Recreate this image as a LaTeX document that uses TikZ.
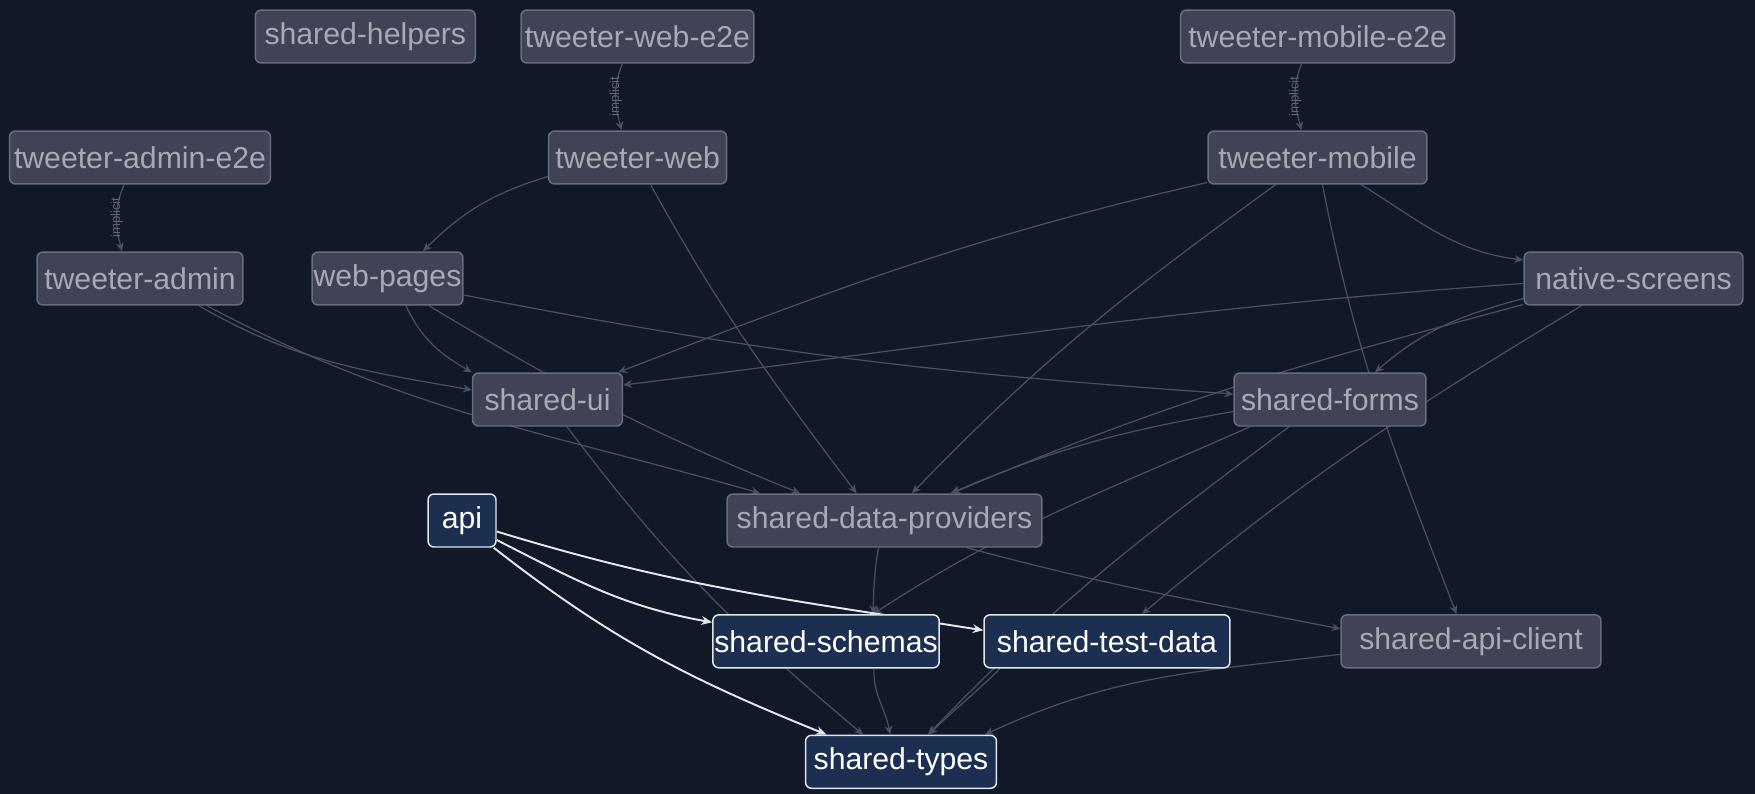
\documentclass[tikz,border=0pt]{standalone}
\usepackage{fontspec}
\setmainfont{Liberation Sans}
\usepackage{tikz}
\usetikzlibrary{arrows.meta, calc}
\usepackage{xcolor}

\definecolor{bgcol}{HTML}{111827}
\definecolor{pkgfill}{HTML}{3F4355}
\definecolor{pkgline}{HTML}{696C7E}
\definecolor{pkgtext}{HTML}{A7AAB6}
\definecolor{hotfill}{HTML}{1C2F51}
\definecolor{hotline}{HTML}{E2E4EA}
\definecolor{depcol}{HTML}{4A4F61}
\definecolor{apicol}{HTML}{E5E7EB}
\definecolor{implcol}{HTML}{5F6376}

\pgfdeclarelayer{bg}
\pgfdeclarelayer{edges}
\pgfsetlayers{bg,edges,main}

\tikzset{
  pkg/.style={draw=pkgline, fill=pkgfill, text=pkgtext, rounded corners=0.12cm,
    line width=0.85pt, minimum height=1.06cm, inner xsep=0.03cm,
    font=\fontsize{17.2}{20}\selectfont},
  hotpkg/.style={pkg, draw=hotline, fill=hotfill, text=white},
  dep/.style={->, >={Stealth[length=5pt,width=4.5pt]}, draw=depcol, line width=0.7pt},
  apidep/.style={->, >={Stealth[length=6pt,width=5pt]}, draw=apicol, line width=1.1pt},
  implicit/.style={font=\fontsize{7.5}{8}\selectfont, text=implcol, rotate=90, inner sep=0pt}
}

\begin{document}
\begin{tikzpicture}[x=0.02cm, y=-0.02cm]
  \begin{pgfonlayer}{bg}
    \fill[bgcol] (0,0) rectangle (1755,794);
  \end{pgfonlayer}
  \useasboundingbox (0,0) rectangle (1755,794);

  % apps and e2e
  \node[pkg, minimum width=4.4cm] (sharedHelpers) at (365.3,36.5) {shared-helpers};
  \node[pkg, minimum width=4.66cm] (tweeterWebE2e) at (637.5,36.5) {tweeter-web-e2e};
  \node[pkg, minimum width=5.48cm] (tweeterMobileE2e) at (1317.6,36.5) {tweeter-mobile-e2e};
  \node[pkg, minimum width=5.22cm] (tweeterAdminE2e) at (140,157.5) {tweeter-admin-e2e};
  \node[pkg, minimum width=3.56cm] (tweeterWeb) at (637.6,157.5) {tweeter-web};
  \node[pkg, minimum width=4.38cm] (tweeterMobile) at (1317.5,157.5) {tweeter-mobile};
  \node[pkg, minimum width=4.12cm] (tweeterAdmin) at (140,278.5) {tweeter-admin};
  \node[pkg, minimum width=3.02cm] (webPages) at (387.5,278.5) {web-pages};
  \node[pkg, minimum width=4.38cm] (nativeScreens) at (1633.5,278.5) {native-screens};

  % shared libs
  \node[pkg, minimum width=3.0cm] (sharedUi) at (547.5,399.5) {shared-ui};
  \node[pkg, minimum width=3.84cm] (sharedForms) at (1330,399.5) {shared-forms};
  \node[hotpkg, minimum width=1.36cm] (api) at (462,520.5) {api};
  \node[pkg, minimum width=6.3cm] (sharedDataProviders) at (884.5,520.5) {shared-data-providers};
  \node[hotpkg, minimum width=4.4cm] (sharedSchemas) at (826,641.3) {shared-schemas};
  \node[hotpkg, minimum width=4.92cm] (sharedTestData) at (1107,641.3) {shared-test-data};
  \node[pkg, minimum width=5.2cm] (sharedApiClient) at (1471,641.3) {shared-api-client};
  \node[hotpkg, minimum width=3.82cm] (sharedTypes) at (901,761.8) {shared-types};

  \begin{pgfonlayer}{edges}
    % implicit e2e links
    \draw[dep] ([xshift=-0.32cm]tweeterAdminE2e.south) to[out=-113,in=105] node[implicit]{implicit} ([xshift=-0.36cm]tweeterAdmin.north);
    \draw[dep] ([xshift=-0.30cm]tweeterWebE2e.south) to[out=-113,in=105] node[implicit]{implicit} ([xshift=-0.32cm]tweeterWeb.north);
    \draw[dep] ([xshift=-0.32cm]tweeterMobileE2e.south) to[out=-113,in=105] node[implicit]{implicit} ([xshift=-0.32cm]tweeterMobile.north);

    % apps
    \draw[dep] ([yshift=-0.38cm]tweeterWeb.west) to[out=197,in=45] ([xshift=0.71cm]webPages.north);
    \draw[dep] ([xshift=0.26cm]tweeterWeb.south) to[out=-61,in=127] ([xshift=-0.56cm]sharedDataProviders.north);
    \draw[dep] ([xshift=1.18cm]tweeterAdmin.south) to[out=-30,in=170] ([yshift=0.19cm]sharedUi.west);
    \draw[dep] ([xshift=1.34cm]tweeterAdmin.south) to[out=-28,in=164] ([xshift=-2.49cm]sharedDataProviders.north);
    \draw[dep] ([xshift=0.37cm]webPages.south) to[out=-65,in=150] (sharedUi.north west);
    \draw[dep] ([xshift=0.83cm]webPages.south) to[out=-31,in=158] ([xshift=-1.69cm]sharedDataProviders.north);
    \draw[dep] ([yshift=-0.33cm]webPages.east) to[out=-11,in=176] ([yshift=0.11cm]sharedForms.west);
    \draw[dep] ([yshift=-0.5cm]tweeterMobile.west) to[out=193,in=21] ([xshift=-0.1cm]sharedUi.north east);
    \draw[dep] ([xshift=-0.84cm]tweeterMobile.south) to[out=216,in=46] ([xshift=0.55cm]sharedDataProviders.north);
    \draw[dep] ([xshift=0.1cm]tweeterMobile.south) to[out=-79,in=111] ([xshift=-0.29cm]sharedApiClient.north);
    \draw[dep] ([xshift=0.88cm]tweeterMobile.south) to[out=-32,in=173] ([yshift=0.37cm]nativeScreens.west);
    \draw[dep] ([yshift=-0.1cm]nativeScreens.west) to[out=184,in=7] ([yshift=0.29cm]sharedUi.east);
    \draw[dep] ([yshift=-0.4cm]nativeScreens.west) to[out=195,in=41] ([xshift=0.9cm]sharedForms.north);
    \draw[dep] ([yshift=-0.52cm]nativeScreens.west) to[out=195,in=23] ([xshift=1.35cm]sharedDataProviders.north);
    \draw[dep] ([xshift=-1.04cm]nativeScreens.south) to[out=211,in=40] ([xshift=0.7cm]sharedTestData.north);

    % shared libs
    \draw[dep] ([yshift=-0.24cm]sharedForms.west) to[out=190,in=23] ([xshift=1.32cm]sharedDataProviders.north);
    \draw[dep] ([xshift=-1.6cm]sharedForms.south) to[out=204,in=33] ([xshift=0.94cm]sharedSchemas.north);
    \draw[dep] ([xshift=-0.82cm]sharedForms.south) to[out=217,in=46] ([xshift=0.54cm]sharedTypes.north);
    \draw[dep] ([xshift=-0.12cm]sharedDataProviders.south) to[out=-100,in=88] ([xshift=0.94cm]sharedSchemas.north);
    \draw[dep] ([xshift=1.65cm]sharedDataProviders.south) to[out=-15,in=169] ([yshift=0.25cm]sharedApiClient.west);
    \draw[dep] ([yshift=-0.26cm]sharedApiClient.west) to[out=187,in=25] ([xshift=1.68cm]sharedTypes.north);
    \draw[dep] ([xshift=0.96cm]sharedSchemas.south) to[out=-92,in=100] ([xshift=-0.22cm]sharedTypes.north);
    \draw[dep] ([xshift=0.39cm]sharedUi.south) to[out=-53,in=140] ([xshift=-0.76cm]sharedTypes.north);
    \draw[dep] ([xshift=-2.14cm]sharedTestData.south) to[out=-135,in=45] ([xshift=0.56cm]sharedTypes.north);

    % api
    \draw[apidep] ([yshift=-0.39cm]api.east) to[out=-27,in=170] ([yshift=0.38cm]sharedSchemas.west);
    \draw[apidep] ([yshift=-0.22cm]api.east) to[out=-17,in=171] ([yshift=0.22cm]sharedTestData.west);
    \draw[apidep] ([xshift=-0.06cm]api.south east) to[out=-38,in=158] ([xshift=-1.49cm]sharedTypes.north);
  \end{pgfonlayer}
\end{tikzpicture}
\end{document}
